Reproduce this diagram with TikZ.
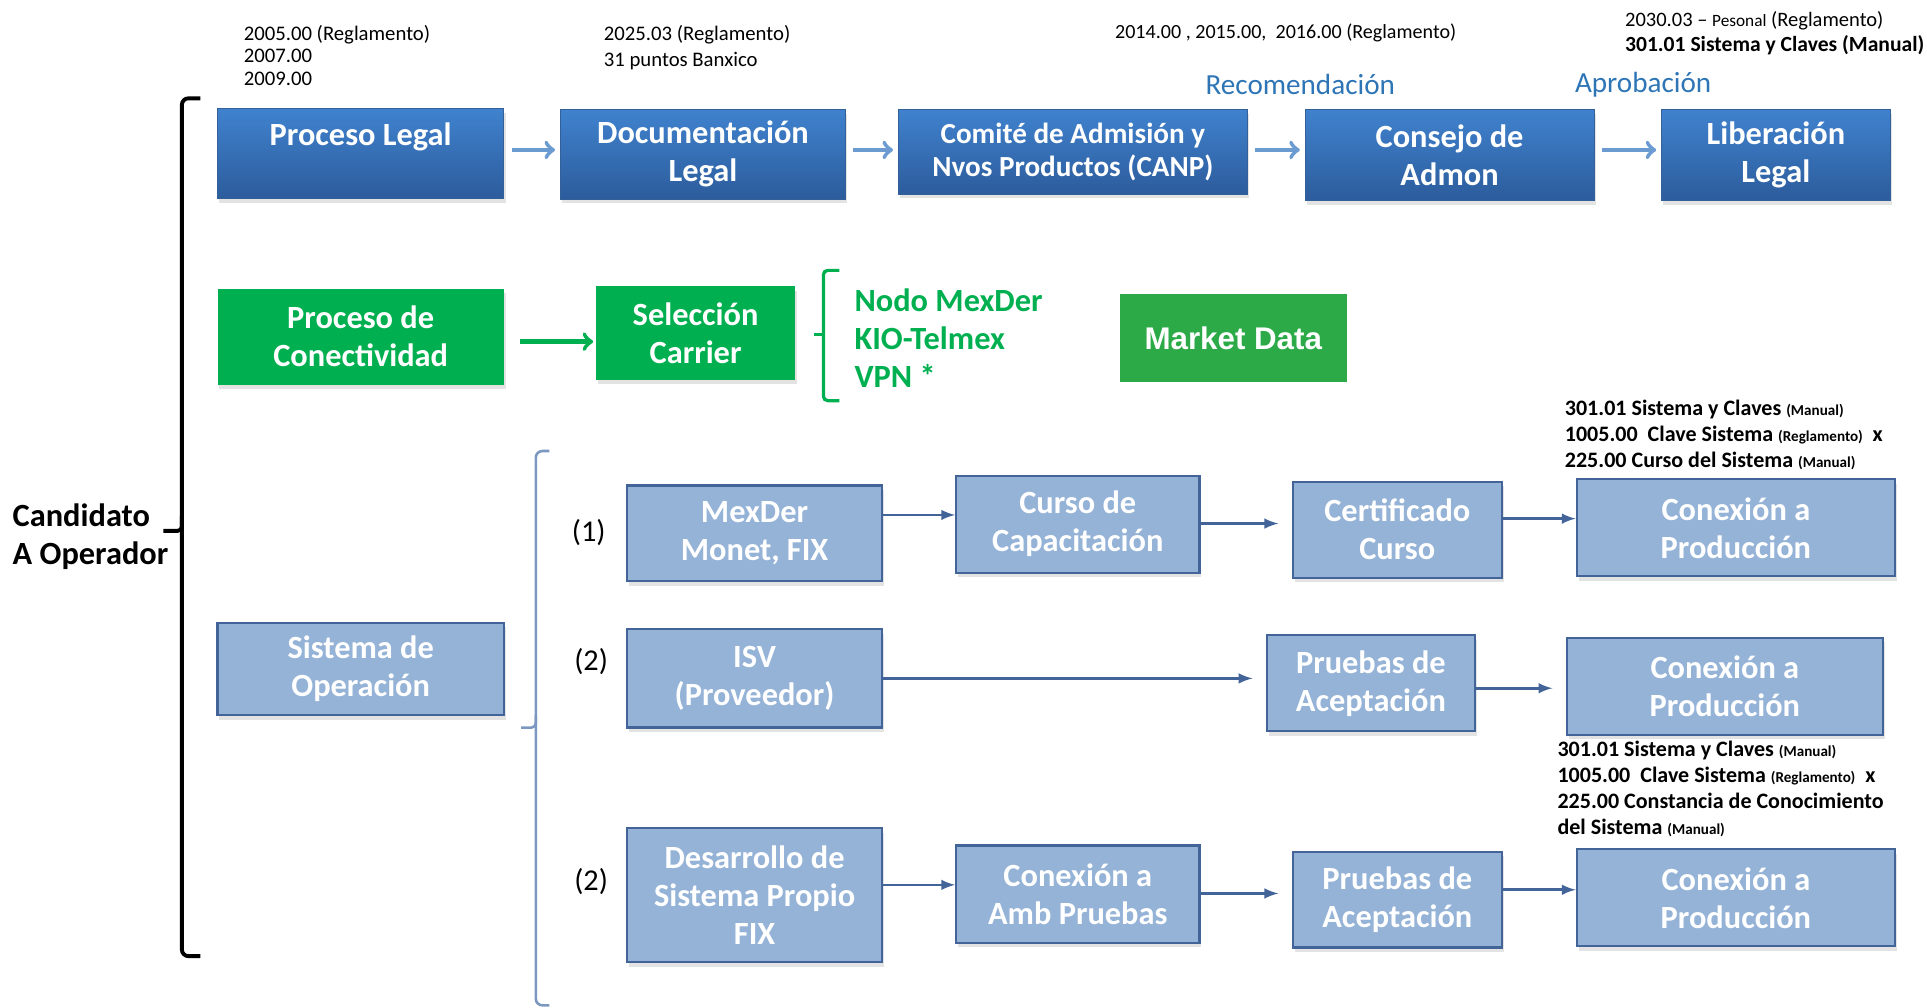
\documentclass[tikz,border=0pt]{standalone}
\usepackage{fontspec}
\setmainfont{Carlito}
\newfontfamily\arialfont{Liberation Sans}
\usetikzlibrary{arrows,positioning,shadows}
\definecolor{dkbluetop}{RGB}{64,130,206}
\definecolor{dkbluebot}{RGB}{44,92,156}
\definecolor{dkblueline}{RGB}{52,96,154}
\definecolor{ltblue}{RGB}{149,179,215}
\definecolor{ltblueline}{RGB}{66,100,152}
\definecolor{flowgreen}{RGB}{0,176,80}
\definecolor{mdgreen}{RGB}{44,170,72}
\definecolor{arrowblue}{RGB}{108,155,210}
\definecolor{titleblue}{RGB}{46,117,182}
\definecolor{bracketblue}{RGB}{125,152,192}

\begin{document}
\begin{tikzpicture}[x=0.02cm, y=-0.02cm, >=stealth',
	boxtext/.style={align=center, inner sep=0pt, text=white,
		font=\fontsize{15}{17.6}\selectfont\bfseries},
	boxshadow/.style={drop shadow={shadow xshift=0.03cm, shadow yshift=-0.07cm, opacity=0.22}},
	legalbox/.style={boxtext, boxshadow, draw=dkblueline, line width=0.4pt,
		top color=dkbluetop, bottom color=dkbluebot},
	netbox/.style={boxtext, boxshadow, fill=flowgreen},
	sysbox/.style={boxtext, boxshadow, draw=ltblueline, line width=1pt, fill=ltblue},
	note/.style={align=left, inner sep=0pt, anchor=north west,
		font=\fontsize{9.6}{10.5}\selectfont},
	costnote/.style={align=left, inner sep=0pt, anchor=north west,
		font=\fontsize{10.2}{12}\selectfont\bfseries},
	legalarrow/.style={->, >=to, draw=arrowblue, line width=2pt,
		shorten <=0.12cm, shorten >=0.08cm},
	netarrow/.style={->, >=to, draw=flowgreen, line width=2pt},
	sysarrow/.style={->, >=latex, draw=ltblueline, line width=1.2pt}]
	\useasboundingbox (0,0) rectangle (1568,820.2);

	% notas de reglamento
	\node[note] (n1) at (198,20) {2005.00 (Reglamento)\\2007.00\\2009.00};
	\node[note, font=\fontsize{9.6}{12}\selectfont] (n2) at (491,20) {2025.03 (Reglamento)\\31 puntos Banxico};
	\node[note, anchor=west, font=\fontsize{9.3}{11}\selectfont] (n3) at (907,27) {2014.00 , 2015.00,\ \ 2016.00 (Reglamento)};
	\node[note, font=\fontsize{9.5}{11.5}\selectfont] (n4) at (1322,9)
		{2030.03 -- {\footnotesize Pesonal} (Reglamento)\\{\fontsize{10}{11.5}\selectfont\bfseries 301.01 Sistema y Claves (Manual)}};
	\node[text=titleblue, font=\fontsize{13.5}{16}\selectfont] (recom) at (1058,69) {Recomendación};
	\node[text=titleblue, font=\fontsize{13.5}{16}\selectfont] (aprob) at (1337,69) {Aprobación};

	% proceso legal
	\node[legalbox, minimum width=4.66cm, minimum height=1.46cm] (legal) at (293.5,125) {Proceso Legal\\ \mbox{}};
	\node[legalbox, minimum width=4.64cm, minimum height=1.46cm] (doc) at (572,125.5) {Documentación\\Legal};
	\node[legalbox, minimum width=5.68cm, minimum height=1.38cm, font=\fontsize{13.5}{15.3}\selectfont\bfseries] (canp) at (873,123.5) {Comité de Admisión y\\Nvos Productos (CANP)};
	\node[legalbox, minimum width=4.70cm, minimum height=1.48cm] (consejo) at (1179.5,126) {Consejo de\\Admon};
	\node[legalbox, minimum width=3.72cm, minimum height=1.48cm] (liber) at (1445,126) {Liberación\\Legal};
	\draw[legalarrow] (legal.east |- 0,122) -- (doc.west |- 0,122);
	\draw[legalarrow] (doc.east |- 0,122) -- (canp.west |- 0,122);
	\draw[legalarrow] (canp.east |- 0,122) -- (consejo.west |- 0,122);
	\draw[legalarrow] (consejo.east |- 0,122) -- (liber.west |- 0,122);

	% conectividad
	\node[netbox, minimum width=4.66cm, minimum height=1.56cm] (conect) at (293.5,274) {Proceso de\\Conectividad};
	\node[netbox, minimum width=3.24cm, minimum height=1.52cm] (carrier) at (566,271) {Selección\\Carrier};
	\draw[netarrow, shorten <=0.26cm, shorten >=0.04cm] (conect.east |- 0,278) -- (carrier.west |- 0,278);
	\draw[flowgreen, line width=1.5pt, rounded corners=2pt] (683,220) -- (670,220) -- (670,326) -- (683,326);
	\draw[flowgreen, line width=1.5pt] (670,272) -- (662,272);
	\node[anchor=west, align=left, inner sep=0pt, text=flowgreen,
		font=\fontsize{15}{17.6}\selectfont\bfseries] (carriers) at (695,275) {Nodo MexDer\\KIO-Telmex\\VPN *};
	\node[fill=mdgreen, text=white, inner sep=0pt, minimum width=3.70cm, minimum height=1.44cm,
		font=\arialfont\fontsize{14.5}{16}\selectfont\bfseries] (mdata) at (1003.5,275) {Market Data};

	% candidato
	\draw[black, line width=1.8pt, rounded corners=3pt] (163,80) -- (148,80) -- (148,778) -- (163,778);
	\draw[black, line width=1.8pt, rounded corners=2pt] (133,432) -- (148,432) -- (148,420);
	\node[anchor=west, align=left, inner sep=0pt,
		font=\fontsize{15}{17.6}\selectfont\bfseries] (cand) at (10,437) {Candidato\\A Operador};

	% sistema de operacion
	\node[sysbox, minimum width=4.66cm, minimum height=1.50cm] (sisop) at (293.5,544.5) {Sistema de\\Operación};
	\draw[bracketblue, line width=1.2pt, rounded corners=3pt] (447,367) -- (436,367) -- (436,818) -- (447,818);
	\draw[bracketblue, line width=1.2pt, rounded corners=2pt] (424,592) -- (436,592) -- (436,582);
	\node[font=\fontsize{14}{16}\selectfont] (op1) at (479,433) {(1)};
	\node[font=\fontsize{14}{16}\selectfont] (op2) at (481,538) {(2)};
	\node[font=\fontsize{14}{16}\selectfont] (op3) at (481,717) {(2)};

	\node[sysbox, minimum width=4.16cm, minimum height=1.56cm] (mexder) at (614,434) {MexDer\\Monet, FIX};
	\node[sysbox, minimum width=3.96cm, minimum height=1.58cm] (curso) at (877,426.5) {Curso de\\Capacitación};
	\node[sysbox, minimum width=3.40cm, minimum height=1.56cm] (certif) at (1137,431) {Certificado\\Curso};
	\node[sysbox, minimum width=5.18cm, minimum height=1.58cm] (prodA) at (1412.5,429.5) {Conexión a\\Producción};
	\draw[sysarrow] (mexder.east |- 0,419) -- (curso.west |- 0,419);
	\draw[sysarrow, shorten >=0.22cm] (curso.east |- 0,426) -- (certif.west |- 0,426);
	\draw[sysarrow] (certif.east |- 0,422) -- (prodA.west |- 0,422);
	\node[costnote] (costA) at (1273,325) {301.01 Sistema y Claves {\scriptsize(Manual)}\\1005.00\ \ Clave Sistema {\scriptsize(Reglamento)}\ \ x\\225.00 Curso del Sistema {\scriptsize(Manual)}};

	\node[sysbox, minimum width=4.16cm, minimum height=1.60cm] (isv) at (614,552) {ISV\\(Proveedor)};
	\node[sysbox, minimum width=3.38cm, minimum height=1.56cm] (pruebasA) at (1115.5,556) {Pruebas de\\Aceptación};
	\node[sysbox, minimum width=5.14cm, minimum height=1.58cm] (prodB) at (1403.5,558.5) {Conexión a\\Producción};
	\draw[sysarrow, shorten >=0.22cm] (isv.east |- 0,552) -- (pruebasA.west |- 0,552);
	\draw[sysarrow, shorten >=0.22cm] (pruebasA.east |- 0,560) -- (prodB.west |- 0,560);
	\node[costnote] (costB) at (1267,603) {301.01 Sistema y Claves {\scriptsize(Manual)}\\1005.00\ \ Clave Sistema {\scriptsize(Reglamento)}\ \ x\\225.00 Constancia de Conocimiento\\del Sistema {\scriptsize(Manual)}};

	\node[sysbox, minimum width=4.16cm, minimum height=2.18cm] (desarr) at (614,728.5) {Desarrollo de\\Sistema Propio\\FIX};
	\node[sysbox, minimum width=3.96cm, minimum height=1.58cm] (ambpr) at (877,727.5) {Conexión a\\Amb Pruebas};
	\node[sysbox, minimum width=3.40cm, minimum height=1.56cm] (pruebasB) at (1137,732) {Pruebas de\\Aceptación};
	\node[sysbox, minimum width=5.18cm, minimum height=1.58cm] (prodC) at (1412.5,730.5) {Conexión a\\Producción};
	\draw[sysarrow] (desarr.east |- 0,720) -- (ambpr.west |- 0,720);
	\draw[sysarrow, shorten >=0.22cm] (ambpr.east |- 0,727) -- (pruebasB.west |- 0,727);
	\draw[sysarrow] (pruebasB.east |- 0,724) -- (prodC.west |- 0,724);
\end{tikzpicture}
\end{document}
